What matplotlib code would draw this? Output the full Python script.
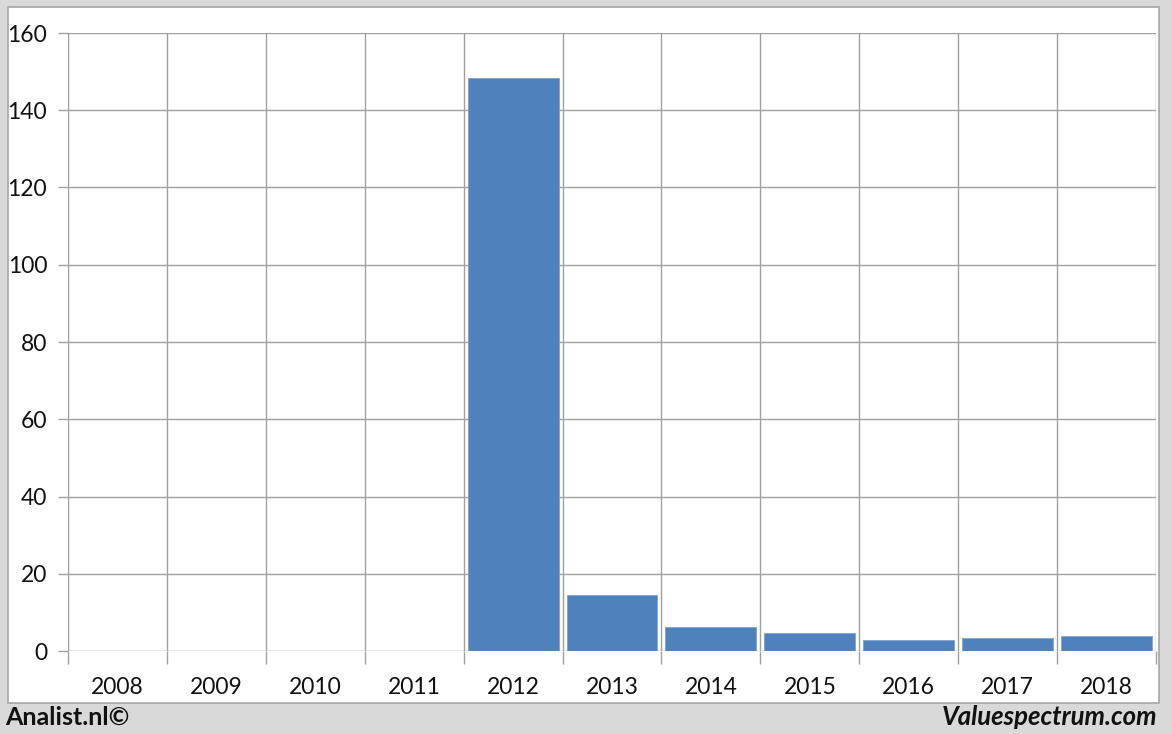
import matplotlib
matplotlib.use("Agg")
import matplotlib.pyplot as plt
from matplotlib.patches import Rectangle
import numpy as np

years = ["2008", "2009", "2010", "2011", "2012", "2013", "2014", "2015", "2016", "2017", "2018"]
values = [np.nan, np.nan, np.nan, np.nan, 148.3, 14.6, 6.3, 4.7, 2.9, 3.45, 4.0]
yticks = [0, 20, 40, 60, 80, 100, 120, 140, 160]

W, H = 1172, 734
fig = plt.figure(figsize=(W / 100, H / 100), dpi=100)
fig.patch.set_facecolor("#d9d9d9")

# white panel
panel = Rectangle((8 / W, 1 - 703 / H), (1159 - 8) / W, (703 - 7) / H,
                  transform=fig.transFigure, facecolor="white",
                  edgecolor="#a6a6a6", linewidth=1.2, zorder=-5)
fig.patches.append(panel)

ax = fig.add_axes([68 / W, 1 - 651 / H, (1156 - 68) / W, (651 - 33) / H])
ax.set_facecolor("none")
ax.set_zorder(2)
grid_c = "#a0a0a0"

x = np.arange(len(years))
ax.bar(x, values, width=0.92, color="#4f81bd", edgecolor="#7fa3d0",
       linewidth=0.6, zorder=3)

ax.set_xlim(-0.5, len(years) - 0.5)
ax.set_ylim(0, 160)
ax.set_yticks(yticks)
ax.set_yticklabels([str(v) for v in yticks])
ax.set_xticks(x)
ax.set_xticklabels(years)
ax.set_xticks(np.arange(-0.5, len(years)), minor=True)

for s in ax.spines.values():
    s.set_visible(False)

ax.grid(True, axis="y", which="major", color=grid_c, linewidth=1.0, zorder=1)
ax.grid(True, axis="x", which="minor", color=grid_c, linewidth=1.0, zorder=1)
ax.grid(False, axis="x", which="major")

ax.tick_params(axis="y", which="major", length=7, color=grid_c, width=1.0,
               pad=8, labelsize=16.5)
ax.tick_params(axis="x", which="major", length=0, pad=19, labelsize=16.5)
ax.tick_params(axis="x", which="minor", length=9, color=grid_c, width=1.0)

for lab in ax.get_xticklabels() + ax.get_yticklabels():
    lab.set_fontfamily(["Lato", "DejaVu Sans"])
    lab.set_color("#111111")

fig.text(5 / W, 1 - 717 / H, "Analist.nl©", fontsize=18, fontweight="bold",
         family=["Lato", "DejaVu Sans"], ha="left", va="center", color="#111111")
fig.text(1157 / W, 1 - 717 / H, "Valuespectrum.com", fontsize=18.5,
         fontweight="bold", style="italic", family=["Lato", "DejaVu Sans"],
         ha="right", va="center", color="#111111")

fig.savefig("out.png", dpi=100, facecolor=fig.get_facecolor())
